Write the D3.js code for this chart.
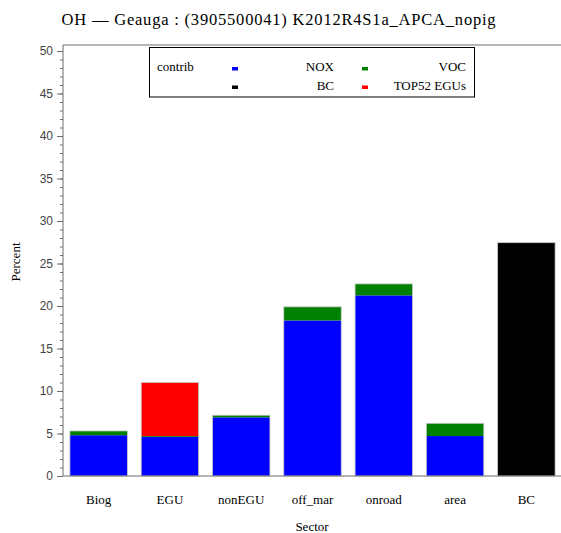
<!DOCTYPE html>
<html>
<head>
<meta charset="utf-8">
<script src="https://cdn.jsdelivr.net/npm/d3@7"></script>
<style>
  html, body { margin: 0; padding: 0; background: #fff; }
  svg { display: block; }
</style>
</head>
<body>
<svg id="chart" width="561" height="533"></svg>
<script>
// Sector contributions (percent), stacked by species
const sectors = ["Biog", "EGU", "nonEGU", "off_mar", "onroad", "area", "BC"];
const nox   = [4.8, 4.6, 6.9, 18.3, 21.25, 4.7, 0];
const voc   = [0.5, 0.1, 0.25, 1.6, 1.35, 1.5, 0];
const top52 = [0, 6.3, 0, 0, 0, 0, 0];
const bc    = [0, 0, 0, 0, 0, 0, 27.45];
const yTicks = [0, 5, 10, 15, 20, 25, 30, 35, 40, 45, 50];

const seriesKeys = ["NOX", "VOC", "TOP52 EGUs", "BC"];
const seriesColors = { "NOX": "#0000ff", "VOC": "#008000", "TOP52 EGUs": "#ff0000", "BC": "#000000" };
const legendRows = [["NOX", "VOC"], ["BC", "TOP52 EGUs"]];

const table = sectors.map((s, i) => ({ sector: s, "NOX": nox[i], "VOC": voc[i], "TOP52 EGUs": top52[i], "BC": bc[i] }));
const totals = table.map(d => d["NOX"] + d["VOC"] + d["TOP52 EGUs"] + d["BC"]);

const svg = d3.select("#chart");
const plotLeft = 63, plotRight = 562, plotTop = 45, plotBottom = 476;
const serif = "'Liberation Serif', 'DejaVu Serif', serif";
const sans = "'Liberation Sans', Arial, sans-serif";
const axisColor = "#6e6e6e";

const x = d3.scaleBand().domain(sectors).range([plotLeft, plotRight]).paddingInner(0.194).paddingOuter(0.097);
const y = d3.scaleLinear().domain([0, 50]).range([plotBottom, 51]);

// Title
svg.append("text")
  .attr("x", 279).attr("y", 25)
  .attr("text-anchor", "middle")
  .style("font-family", serif).style("font-size", "16.5px").style("letter-spacing", "0.8px")
  .text("OH \u2014 Geauga : (3905500041) K2012R4S1a_APCA_nopig");

// Stacked bars
const stacked = d3.stack().keys(seriesKeys)(table);
svg.append("g").selectAll("g").data(stacked).join("g")
  .attr("fill", d => seriesColors[d.key])
  .selectAll("rect").data(d => d.filter(p => p[1] - p[0] > 0)).join("rect")
  .attr("x", d => x(d.data.sector))
  .attr("width", x.bandwidth())
  .attr("y", d => y(d[1]))
  .attr("height", d => y(d[0]) - y(d[1]));

// Bar outlines
svg.append("g").selectAll("rect").data(table).join("rect")
  .attr("x", d => x(d.sector))
  .attr("width", x.bandwidth())
  .attr("y", (d, i) => y(totals[i]))
  .attr("height", (d, i) => plotBottom - y(totals[i]))
  .attr("fill", "none")
  .attr("stroke", "#c8c8c8").attr("stroke-width", 0.8);

// Frame: top and bottom lines
svg.append("line").attr("x1", plotLeft).attr("x2", 561).attr("y1", plotTop).attr("y2", plotTop)
  .attr("stroke", axisColor).attr("stroke-width", 1.2);
svg.append("line").attr("x1", plotLeft).attr("x2", 561).attr("y1", plotBottom).attr("y2", plotBottom)
  .attr("stroke", axisColor).attr("stroke-width", 1.2);

// Y axis with minor ticks
const yAxisG = svg.append("g").attr("transform", `translate(${plotLeft},0)`);
yAxisG.call(d3.axisLeft(y).tickValues(d3.range(0, 51, 1)).tickSize(3).tickFormat(""));
yAxisG.append("g").call(d3.axisLeft(y).tickValues(yTicks).tickSize(6).tickPadding(4));
yAxisG.selectAll("line").attr("stroke", axisColor);
yAxisG.selectAll("g g .domain").remove();
yAxisG.selectAll("path.domain").attr("d", `M0,${plotTop}V${plotBottom}`).attr("stroke", axisColor);
yAxisG.selectAll("text")
  .style("font-family", sans).style("font-size", "12px").attr("fill", "#444");

// X axis labels
const xAxisG = svg.append("g").attr("transform", `translate(0,${plotBottom})`)
  .call(d3.axisBottom(x).tickSize(0).tickPadding(19));
xAxisG.select(".domain").remove();
xAxisG.selectAll("text").style("font-family", serif).style("font-size", "13px").attr("fill", "#000");

// Axis titles
svg.append("text")
  .attr("transform", "translate(20,262) rotate(-90)")
  .attr("text-anchor", "middle")
  .style("font-family", serif).style("font-size", "13px")
  .text("Percent");
svg.append("text")
  .attr("x", 312).attr("y", 531)
  .attr("text-anchor", "middle")
  .style("font-family", serif).style("font-size", "13px")
  .text("Sector");

// Legend
const lg = svg.append("g");
lg.append("rect").attr("x", 149.5).attr("y", 47.5).attr("width", 325).attr("height", 49.5)
  .attr("fill", "#fff").attr("stroke", "#000").attr("stroke-width", 1);
lg.append("text").attr("x", 157).attr("y", 71)
  .style("font-family", serif).style("font-size", "13px").text("contrib");
const colSwatch = [232, 362];
const colTextEnd = [334, 466];
legendRows.forEach((row, r) => {
  row.forEach((key, c) => {
    const yy = 71 + r * 18.5;
    lg.append("rect").attr("x", colSwatch[c]).attr("y", yy - 4).attr("width", 6).attr("height", 3.5)
      .attr("fill", seriesColors[key]);
    lg.append("text").attr("x", colTextEnd[c]).attr("y", yy)
      .attr("text-anchor", "end")
      .style("font-family", serif).style("font-size", "13px").text(key);
  });
});
</script>
</body>
</html>
